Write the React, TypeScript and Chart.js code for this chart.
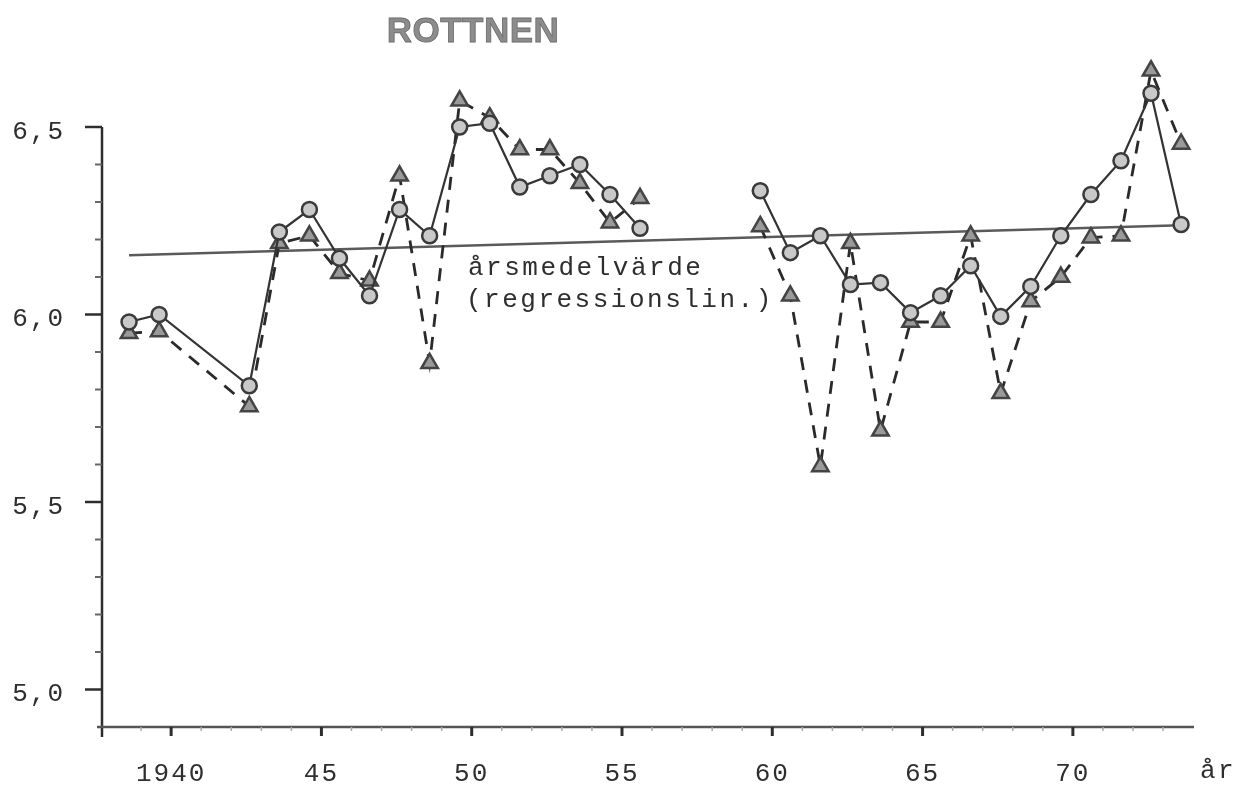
import React, { useEffect, useRef } from 'react';
import { Chart, registerables } from 'chart.js';

Chart.register(...registerables);

// ---- data ----
const YEARS = [
  1939, 1940, 1943, 1944, 1945, 1946, 1947, 1948, 1949, 1950, 1951, 1952, 1953, 1954, 1955, 1956,
  1958,
  1960, 1961, 1962, 1963, 1964, 1965, 1966, 1967, 1968, 1969, 1970, 1971, 1972, 1973, 1974,
];
const CIRCLE_VALUES: (number | null)[] = [
  5.98, 6.0, 5.81, 6.22, 6.28, 6.15, 6.05, 6.28, 6.21, 6.5, 6.51, 6.34, 6.37, 6.4, 6.32, 6.23,
  null,
  6.33, 6.165, 6.21, 6.08, 6.085, 6.005, 6.05, 6.13, 5.995, 6.075, 6.21, 6.32, 6.41, 6.59, 6.24,
];
const TRIANGLE_VALUES: (number | null)[] = [
  5.95, 5.955, 5.755, 6.19, 6.21, 6.11, 6.09, 6.37, 5.87, 6.57, 6.525, 6.44, 6.44, 6.35, 6.245, 6.31,
  null,
  6.235, 6.05, 5.595, 6.19, 5.69, 5.98, 5.98, 6.21, 5.79, 6.035, 6.1, 6.205, 6.21, 6.65, 6.455,
];
const REG_YEARS = [1939, 1974];
const REG_VALUES = [6.158, 6.238];

const X_TICK_YEARS = [1940, 1945, 1950, 1955, 1960, 1965, 1970];
const X_TICK_LABELS = ['1940', '45', '50', '55', '60', '65', '70'];
const X_TICK_SHIFT = 0.4;
const Y_TICK_VALUES = [5.0, 5.5, 6.0, 6.5];
const Y_TICK_LABELS = ['5,0', '5,5', '6,0', '6,5'];

const TITLE = 'ROTTNEN';
const NOTE_LINES = ['årsmedelvärde', '(regressionslin.)'];
const X_UNIT = 'år';

const INK = '#2e2e2e';
const MONO = "'Liberation Mono', 'Courier New', monospace";

const axesPlugin = {
  id: 'paperAxes',
  beforeDraw(chart: any) {
    const ctx = chart.ctx;
    ctx.save();
    ctx.fillStyle = '#ffffff';
    ctx.fillRect(0, 0, chart.width, chart.height);
    ctx.restore();
    (ctx as any).letterSpacing = '2px';
  },
  beforeDatasetsDraw(chart: any) {
    const { ctx, chartArea, scales } = chart;
    const x = scales.x;
    const y = scales.y;
    ctx.save();
    ctx.strokeStyle = INK;
    ctx.lineCap = 'butt';
    // y axis line (from 6,5 down)
    ctx.lineWidth = 2.5;
    ctx.beginPath();
    ctx.moveTo(chartArea.left, y.getPixelForValue(6.5));
    ctx.lineTo(chartArea.left, chartArea.bottom + 10);
    ctx.stroke();
    // y tick marks every 0.1
    for (let k = 50; k <= 65; k++) {
      const py = y.getPixelForValue(k / 10);
      const major = k % 5 === 0;
      ctx.lineWidth = major ? 2.5 : 2;
      ctx.strokeStyle = major ? INK : '#666';
      ctx.beginPath();
      ctx.moveTo(chartArea.left - (major ? 17 : 7), py);
      ctx.lineTo(chartArea.left, py);
      ctx.stroke();
    }
    // x axis line
    ctx.strokeStyle = '#555';
    ctx.lineWidth = 2.5;
    ctx.beginPath();
    ctx.moveTo(chartArea.left - 5, chartArea.bottom);
    ctx.lineTo(chartArea.right, chartArea.bottom);
    ctx.stroke();
    // x tick marks
    for (let yr = 1939; yr <= 1973; yr++) {
      const px = x.getPixelForValue(yr + X_TICK_SHIFT);
      const major = X_TICK_YEARS.includes(yr);
      ctx.lineWidth = major ? 3 : 1.5;
      ctx.strokeStyle = major ? INK : '#aaa';
      ctx.beginPath();
      ctx.moveTo(px, chartArea.bottom);
      ctx.lineTo(px, chartArea.bottom + (major ? 9 : 4));
      ctx.stroke();
    }
    ctx.restore();
  },
  afterDraw(chart: any) {
    const { ctx } = chart;
    ctx.save();
    (ctx as any).letterSpacing = '0.5px';
    // title
    ctx.fillStyle = '#8c8c8c';
    ctx.font = "bold 35px 'Liberation Sans', Arial, sans-serif";
    ctx.textAlign = 'center';
    ctx.textBaseline = 'middle';
    ctx.fillText(TITLE, 473, 32);
    ctx.strokeStyle = '#6a6a6a';
    ctx.lineWidth = 0.8;
    ctx.strokeText(TITLE, 473, 32);
    // annotation
    (ctx as any).letterSpacing = '2.5px';
    ctx.fillStyle = INK;
    ctx.font = `26px ${MONO}`;
    ctx.textAlign = 'left';
    ctx.fillText(NOTE_LINES[0], 468, 268);
    ctx.fillText(NOTE_LINES[1], 466, 300);
    // x unit
    ctx.fillText(X_UNIT, 1200, 771);
    ctx.restore();
  },
};

export default function App() {
  const ref = useRef<HTMLCanvasElement | null>(null);

  useEffect(() => {
    if (!ref.current) return;
    const circleData = YEARS.map((yr, i) => ({ x: yr, y: CIRCLE_VALUES[i] }));
    const triangleData = YEARS.map((yr, i) => ({ x: yr, y: TRIANGLE_VALUES[i] }));
    const regData = REG_YEARS.map((yr, i) => ({ x: yr, y: REG_VALUES[i] }));

    const chart = new Chart(ref.current, {
      type: 'line',
      data: {
        datasets: [
          {
            label: 'circles',
            data: circleData as any,
            borderColor: '#333',
            borderWidth: 2.2,
            pointStyle: 'circle',
            pointRadius: 7.5,
            pointBorderWidth: 2.5,
            pointBorderColor: '#3a3a3a',
            pointBackgroundColor: '#c9c9c9',
            spanGaps: false,
            tension: 0,
          },
          {
            label: 'triangles',
            data: triangleData as any,
            borderColor: '#2a2a2a',
            borderWidth: 2.8,
            borderDash: [13, 10],
            pointStyle: 'triangle',
            pointRadius: 9.5,
            pointBorderWidth: 2.5,
            pointBorderColor: '#444',
            pointBackgroundColor: '#9a9a9a',
            spanGaps: false,
            tension: 0,
          },
          {
            label: 'regression',
            data: regData as any,
            borderColor: '#5a5a5a',
            borderWidth: 2.5,
            pointRadius: 0,
            tension: 0,
          },
        ],
      },
      options: {
        animation: false,
        responsive: false,
        events: [],
        layout: { padding: { left: 0, right: 46, top: 52, bottom: 0 } },
        plugins: {
          legend: { display: false },
          tooltip: { enabled: false },
          title: { display: false },
        },
        scales: {
          x: {
            type: 'linear',
            min: 1938.1,
            max: 1974.43,
            border: { display: false },
            grid: {
              color: 'rgba(0,0,0,0)',
              drawOnChartArea: false,
              drawTicks: true,
              tickLength: 9,
            },
            afterBuildTicks: (scale: any) => {
              scale.ticks = X_TICK_YEARS.map((v) => ({ value: v + X_TICK_SHIFT }));
            },
            afterFit: (scale: any) => {
              scale.height = 65;
            },
            ticks: {
              autoSkip: false,
              maxRotation: 0,
              padding: 23,
              color: INK,
              font: { family: MONO, size: 26 },
              callback: (_v: any, idx: number) => X_TICK_LABELS[idx],
            },
          },
          y: {
            type: 'linear',
            min: 4.9,
            max: 6.7,
            border: { display: false },
            grid: {
              color: 'rgba(0,0,0,0)',
              drawOnChartArea: false,
              drawTicks: true,
              tickLength: 17,
            },
            afterBuildTicks: (scale: any) => {
              scale.ticks = Y_TICK_VALUES.map((v) => ({ value: v }));
            },
            afterFit: (scale: any) => {
              scale.width = 102;
            },
            ticks: {
              autoSkip: false,
              padding: 20,
              labelOffset: 5,
              color: INK,
              font: { family: MONO, size: 26 },
              callback: (_v: any, idx: number) => Y_TICK_LABELS[idx],
            },
          },
        },
      },
      plugins: [axesPlugin],
    });
    return () => chart.destroy();
  }, []);

  return (
    <div style={{ position: 'absolute', left: 0, top: 0, width: 1240, height: 792, background: '#fff' }}>
      <canvas ref={ref} width={1240} height={792} style={{ display: 'block' }} />
    </div>
  );
}
